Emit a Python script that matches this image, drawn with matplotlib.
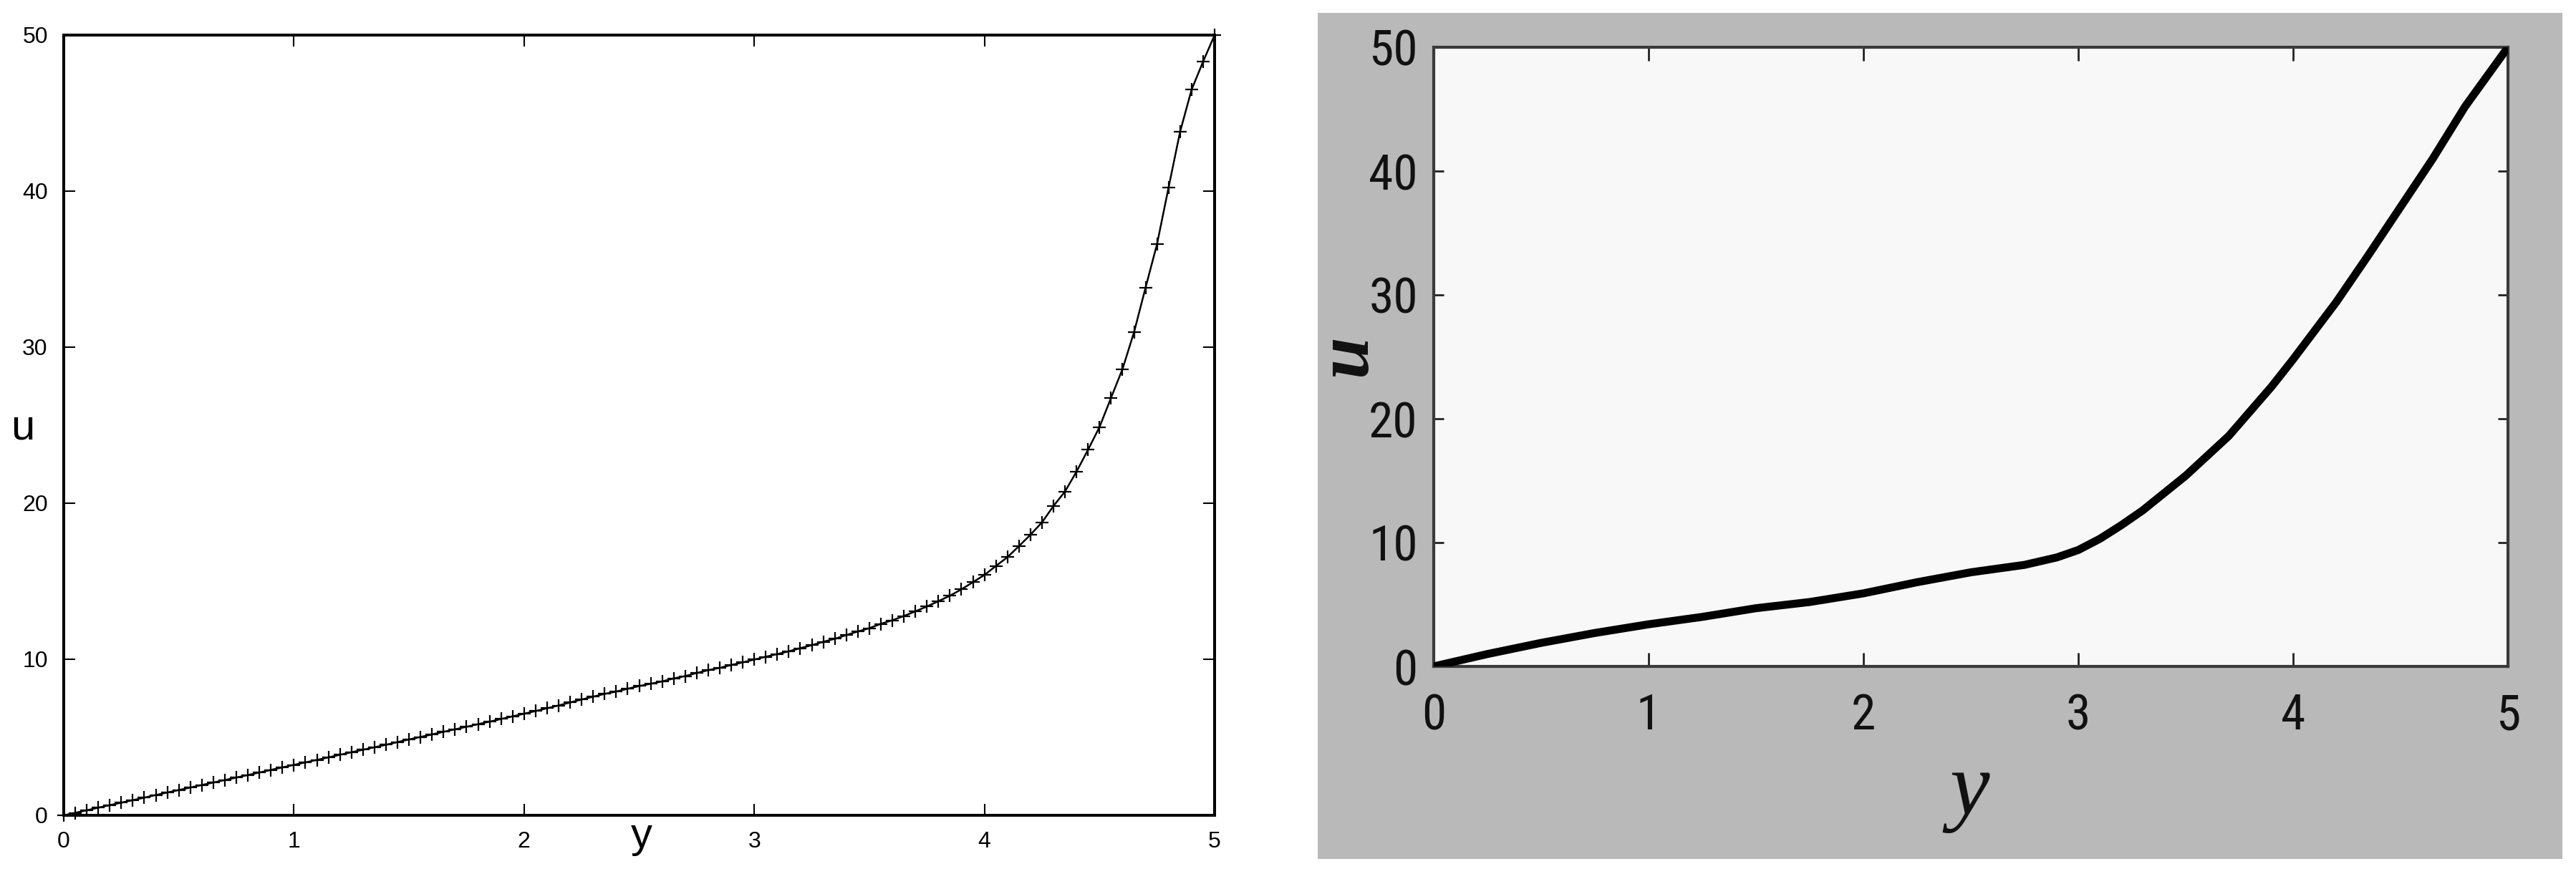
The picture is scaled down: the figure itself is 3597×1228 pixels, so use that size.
import os
import matplotlib
matplotlib.use("Agg")
import matplotlib.pyplot as plt
import matplotlib.font_manager as fm
from matplotlib.patches import Rectangle

# ---------------- data ----------------
# left panel: numerical solution with '+' markers (step 0.05)
y_left = [round(0.05 * i, 2) for i in range(101)]
u_left = [0.00, 0.16, 0.32, 0.49, 0.65, 0.81, 0.97, 1.13, 1.30, 1.46,
          1.62, 1.78, 1.94, 2.10, 2.26, 2.42, 2.58, 2.74, 2.91, 3.07,
          3.23, 3.39, 3.55, 3.71, 3.88, 4.04, 4.20, 4.36, 4.52, 4.69,
          4.86, 5.02, 5.18, 5.35, 5.51, 5.67, 5.84, 6.00, 6.17, 6.34,
          6.51, 6.68, 6.86, 7.04, 7.23, 7.42, 7.60, 7.78, 7.93, 8.11,
          8.28, 8.43, 8.58, 8.77, 8.92, 9.12, 9.30, 9.45, 9.63, 9.80,
          9.98, 10.16, 10.33, 10.51, 10.71, 10.90, 11.12, 11.31, 11.55, 11.78,
          11.99, 12.27, 12.50, 12.77, 13.07, 13.38, 13.72, 14.07, 14.48, 14.94,
          15.40, 15.98, 16.54, 17.25, 17.98, 18.77, 19.82, 20.75, 22.02, 23.42,
          24.88, 26.75, 28.60, 30.96, 33.81, 36.61, 40.23, 43.80, 46.50, 48.30,
          50.00]

# right panel: reference curve
y_right = [0.00, 0.25, 0.50, 0.75, 1.00, 1.25, 1.50, 1.75, 2.00, 2.25,
           2.50, 2.75, 2.90, 3.00, 3.10, 3.20, 3.30, 3.40, 3.50, 3.60,
           3.70, 3.80, 3.90, 4.00, 4.20, 4.35, 4.50, 4.65, 4.80, 5.00]
u_right = [0.0, 1.0, 1.9, 2.7, 3.4, 4.0, 4.7, 5.2, 5.9, 6.8,
           7.6, 8.2, 8.8, 9.4, 10.3, 11.4, 12.6, 14.0, 15.4, 17.0,
           18.6, 20.6, 22.6, 24.8, 29.4, 33.2, 37.1, 41.0, 45.2, 50.0]

x_ticks = [0, 1, 2, 3, 4, 5]
u_ticks = [0, 10, 20, 30, 40, 50]
x_label = "y"
u_label = "u"

# ---------------- fonts ----------------
def find_file(cands):
    files = {os.path.basename(f.fname).lower(): f.fname for f in fm.fontManager.ttflist}
    for c in cands:
        if c.lower() in files:
            return c, files[c.lower()]
    return None, None

cands = [("NotoSans-ExtraCondensed.ttf", 50), ("RobotoCondensed-Regular.ttf", 50),
         ("Roboto_Condensed-Regular.ttf", 50), ("LiberationSansNarrow-Regular.ttf", 48),
         ("NotoSans-Condensed.ttf", 44), ("OpenSans_Condensed-Regular.ttf", 44),
         ("DejaVuSansCondensed.ttf", 40)]
tick_fp_right = None
files = {os.path.basename(f.fname).lower(): f.fname for f in fm.fontManager.ttflist}
for name, size in cands:
    if name.lower() in files:
        tick_fp_right = fm.FontProperties(fname=files[name.lower()], size=size)
        break
if tick_fp_right is None:
    tick_fp_right = fm.FontProperties(family="Liberation Sans", size=38)

W, H = 3598, 1228
fig = plt.figure(figsize=(W / 100, H / 100), dpi=100)
fig.patch.set_facecolor("white")

# ---------------- left panel ----------------
L, R, T, B = 89, 1696, 49, 1139
axL = fig.add_axes([L / W, 1 - B / H, (R - L) / W, (B - T) / H])
axL.plot(y_left, u_left, color="black", lw=1.8, marker="+", ms=12.5, mew=1.6,
         clip_on=False, zorder=3)
axL.set_xlim(0, 5)
axL.set_ylim(0, 50)
axL.set_xticks(x_ticks)
axL.set_yticks(u_ticks)
axL.tick_params(direction="in", length=11.5, width=1.5, top=True, right=True,
                labelsize=23, pad=16)
for lab in axL.get_xticklabels() + axL.get_yticklabels():
    lab.set_fontfamily("Liberation Sans")
for s in axL.spines.values():
    s.set_linewidth(2.9)
fig.text(896 / W, 1 - 1184 / H, x_label, ha="center", va="baseline",
         fontsize=43, family="Liberation Sans")
fig.text(32 / W, 1 - 613 / H, u_label, ha="center", va="baseline",
         fontsize=43, family="Liberation Sans")

# ---------------- right panel ----------------
bg = Rectangle((1840 / W, 1 - 1200 / H), (3578 - 1840) / W, (1200 - 18) / H,
               transform=fig.transFigure, facecolor="#b9b9b9",
               edgecolor="none", zorder=-5)
fig.patches.append(bg)
L2, R2, T2, B2 = 2002, 3502, 66, 931
axR = fig.add_axes([L2 / W, 1 - B2 / H, (R2 - L2) / W, (B2 - T2) / H], facecolor="#f8f8f8")
axR.set_zorder(2)
axR.plot(y_right, u_right, color="black", lw=8, solid_capstyle="round",
         solid_joinstyle="round", zorder=3)
axR.set_xlim(0, 5)
axR.set_ylim(0, 50)
axR.set_xticks(x_ticks)
axR.set_yticks(u_ticks)
axR.tick_params(axis="x", direction="in", length=14, width=2, top=True, bottom=True,
                pad=26, colors="#222222")
axR.tick_params(axis="y", direction="in", length=10, width=2, left=True, right=True,
                pad=16, colors="#222222")
for lab in axR.get_xticklabels() + axR.get_yticklabels():
    lab.set_fontproperties(tick_fp_right)
    lab.set_color("#111111")
for s in axR.spines.values():
    s.set_linewidth(3)
    s.set_color("#3a3a3a")

fig.text(2750 / W, 1 - 1137 / H, x_label, ha="center", va="baseline",
         fontsize=90, family="Liberation Serif", style="italic", color="#111111",
         zorder=3)
fig.text(1907 / W, 1 - 497 / H, u_label, ha="center", va="baseline",
         rotation=90, rotation_mode="anchor",
         fontsize=76, family="Liberation Serif", style="italic", weight="bold",
         color="#111111", zorder=3)

fig.savefig("out.png", dpi=100, facecolor="white")
